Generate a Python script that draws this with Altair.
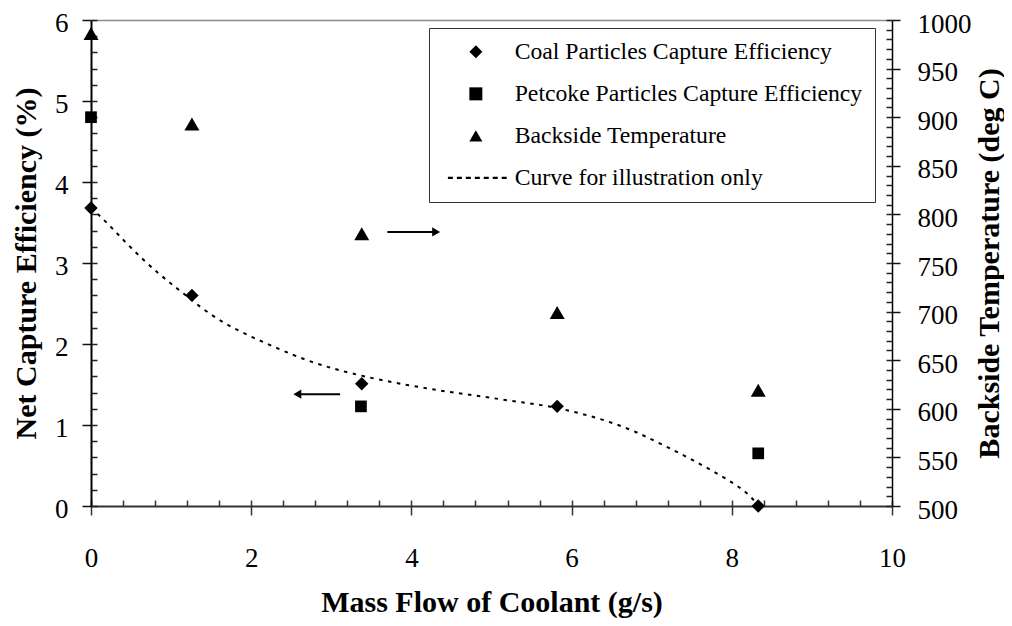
import altair as alt
import pandas as pd

# ---------------- data ----------------
flow = [0.0, 1.26, 3.38, 5.82, 8.33]
coal_eff = [3.68, 2.60, 1.51, 1.23, 0.00]
petcoke_flow = [0.0, 3.37, 8.33]
petcoke_eff = [4.80, 1.23, 0.65]
backside_temp = [986, 893, 780, 699, 619]

curve_flow = [0.0, 0.18, 0.5, 0.86, 1.15, 1.47, 1.82, 2.18, 2.53, 2.78, 3.01, 3.24,
              3.59, 3.97, 4.32, 4.68, 5.03, 5.38, 5.74, 6.09, 6.45, 6.8, 7.15,
              7.51, 7.86, 8.2, 8.33]
curve_eff = [3.68, 3.52, 3.18, 2.85, 2.63, 2.37, 2.17, 2.01, 1.86, 1.77, 1.70, 1.64,
             1.56, 1.49, 1.43, 1.38, 1.33, 1.28, 1.23, 1.15, 1.05, 0.92, 0.75,
             0.57, 0.38, 0.17, 0.00]

series_names = ["Coal Particles Capture Efficiency",
                "Petcoke Particles Capture Efficiency",
                "Backside Temperature",
                "Curve for illustration only"]

# annotation arrows (data units)
arrow_temp_x = [3.70, 4.375]     # tail, tip (points right)
arrow_temp_y = [782]
arrow_eff_x = [3.11, 2.51]       # tail, tip (points left)
arrow_eff_y = [1.38]

x_ticks = [0, 2, 4, 6, 8, 10]
x_minor = [round(i * 0.4, 1) for i in range(26)]
y_left_ticks = [0, 1, 2, 3, 4, 5, 6]
y_left_minor = [round(i * 0.2, 1) for i in range(31)]
y_right_ticks = list(range(500, 1001, 50))
y_right_minor = list(range(500, 1001, 10))

# ---------------- styling ----------------
FONT = "Liberation Serif"
W, H = 801, 486
HEAD = 0.066  # arrow head centre offset from tip (data units)

coal_df = pd.DataFrame({"flow": flow, "eff": coal_eff,
                        "series": [series_names[0]] * len(flow)})
pet_df = pd.DataFrame({"flow": petcoke_flow, "eff": petcoke_eff,
                       "series": [series_names[1]] * len(petcoke_flow)})
temp_df = pd.DataFrame({"flow": flow, "temp": backside_temp,
                        "series": [series_names[2]] * len(flow)})
curve_df = pd.DataFrame({"flow": curve_flow, "eff": curve_eff})
arr_t = pd.DataFrame({"x": [arrow_temp_x[0]], "x2": [arrow_temp_x[1] - HEAD],
                      "y": arrow_temp_y})
arr_t_head = pd.DataFrame({"x": [arrow_temp_x[1] - HEAD], "y": arrow_temp_y})
arr_e = pd.DataFrame({"x": [arrow_eff_x[0]], "x2": [arrow_eff_x[1] + HEAD],
                      "y": arrow_eff_y})
arr_e_head = pd.DataFrame({"x": [arrow_eff_x[1] + HEAD], "y": arrow_eff_y})

# dashed line legend glyph built of small bars (unit = sqrt(size)/2 px)
dash_path = " ".join(
    f"M{s:.2f},-0.16h0.77v0.32h-0.77Z" for s in [-4.3, -2.92, -1.54, -0.16, 1.22, 2.6, 3.98]
)

shape_scale = alt.Scale(domain=series_names,
                        range=["diamond", "square", "triangle-up", dash_path])


def make_legend():
    return alt.Legend(
        title=None, orient="none", legendX=338, legendY=8, padding=12,
        strokeColor="#333", fillColor="white",
        labelFont=FONT, labelFontSize=23.7, labelColor="black", labelLimit=600,
        symbolSize=169, symbolFillColor="black", symbolStrokeWidth=0, symbolOpacity=1,
        rowPadding=17, symbolOffset=23, labelOffset=27,
    )


xs = alt.Scale(domain=[0, 10], nice=False)
ysl = alt.Scale(domain=[0, 6], nice=False)
ysr = alt.Scale(domain=[500, 1000], nice=False, zero=False)

x_main = alt.Axis(
    values=x_ticks, orient="bottom", tickSize=9, tickWidth=1.5, tickColor="#333",
    domainColor="#333", domainWidth=2, grid=False,
    labelFont=FONT, labelFontSize=27, labelColor="black", labelBaseline="alphabetic",
    labelPadding=51, labelFlush=False, labelOverlap=False, format="d",
    title="Mass Flow of Coolant (g/s)", titleFont=FONT, titleFontSize=30,
    titleFontWeight="bold", titleColor="black", titleBaseline="alphabetic", titleY=105,
)
x_inner = alt.Axis(orient="top", offset=-H, values=x_minor, tickSize=6, tickWidth=1.5,
                   tickColor="#333", domain=False, labels=False, grid=False, title=None)
x_top = alt.Axis(orient="top", ticks=False, labels=False, domain=True,
                 domainColor="#8c8c8c", domainWidth=1.5, grid=False, title=None)

y_main = alt.Axis(
    values=y_left_ticks, orient="left", tickSize=9, tickWidth=1.5, tickColor="#111",
    domainColor="black", domainWidth=2, grid=False,
    labelFont=FONT, labelFontSize=27, labelColor="black", labelPadding=14,
    labelOffset=3, labelFlush=False, labelOverlap=False, format="d",
    title="Net Capture Efficiency (%)", titleFont=FONT, titleFontSize=30,
    titleFontWeight="bold", titleColor="black", titleAngle=270,
    titleBaseline="alphabetic", titleX=-56, titleY=H / 2,
)
y_inner = alt.Axis(orient="right", offset=-W, values=y_left_minor, tickSize=6,
                   tickWidth=1.5, tickColor="#222", domain=False, labels=False,
                   grid=False, title=None)
yr_main = alt.Axis(
    values=y_right_ticks, orient="right", tickSize=8, tickWidth=1.5, tickColor="#111",
    domainColor="black", domainWidth=1.5, grid=False,
    labelFont=FONT, labelFontSize=27, labelColor="black", labelPadding=17,
    labelOffset=4, labelFlush=False, labelOverlap=False, format="d",
    title="Backside Temperature (deg C)", titleFont=FONT, titleFontSize=30,
    titleFontWeight="bold", titleColor="black", titleAngle=270,
    titleBaseline="alphabetic", titleX=106, titleY=H / 2,
)
yr_inner = alt.Axis(orient="left", offset=-W, values=y_right_minor, tickSize=6,
                    tickWidth=1.5, tickColor="#222", domain=False, labels=False,
                    grid=False, title=None)

coal_pts = alt.Chart(coal_df).mark_point(filled=True, color="black", opacity=1,
                                         strokeWidth=0, size=180).encode(
    x=alt.X("flow:Q", scale=xs, axis=x_main),
    y=alt.Y("eff:Q", scale=ysl, axis=y_main),
    shape=alt.Shape("series:N", scale=shape_scale, legend=make_legend()),
)
pet_pts = alt.Chart(pet_df).mark_point(filled=True, color="black", opacity=1,
                                       strokeWidth=0, size=137).encode(
    x=alt.X("flow:Q", scale=xs, axis=None),
    y=alt.Y("eff:Q", scale=ysl, axis=None),
    shape=alt.Shape("series:N", scale=shape_scale, legend=make_legend()),
)

curve = alt.Chart(curve_df).mark_line(color="black", strokeWidth=2,
                                      strokeDash=[3.5, 5.5],
                                      interpolate="basis").encode(
    x=alt.X("flow:Q", scale=xs, axis=x_inner),
    y=alt.Y("eff:Q", scale=ysl, axis=y_inner),
)

temp_pts = alt.Chart(temp_df).mark_point(filled=True, color="black", opacity=1,
                                         strokeWidth=0, size=225).encode(
    x=alt.X("flow:Q", scale=xs, axis=x_top),
    y=alt.Y("temp:Q", scale=ysr, axis=yr_main),
    shape=alt.Shape("series:N", scale=shape_scale, legend=make_legend()),
)

arrow_t_line = alt.Chart(arr_t).mark_rule(color="black", strokeWidth=2).encode(
    x=alt.X("x:Q", scale=xs, axis=None), x2="x2:Q",
    y=alt.Y("y:Q", scale=ysr, axis=yr_inner),
)
arrow_t_head = alt.Chart(arr_t_head).mark_point(
    shape="triangle-right", filled=True, color="black", opacity=1, size=85, strokeWidth=0
).encode(
    x=alt.X("x:Q", scale=xs, axis=None),
    y=alt.Y("y:Q", scale=ysr, axis=None),
)
arrow_e_line = alt.Chart(arr_e).mark_rule(color="black", strokeWidth=2).encode(
    x=alt.X("x:Q", scale=xs, axis=None), x2="x2:Q",
    y=alt.Y("y:Q", scale=ysl, axis=None),
)
arrow_e_head = alt.Chart(arr_e_head).mark_point(
    shape="triangle-left", filled=True, color="black", opacity=1, size=85, strokeWidth=0
).encode(
    x=alt.X("x:Q", scale=xs, axis=None),
    y=alt.Y("y:Q", scale=ysl, axis=None),
)

chart = alt.layer(
    coal_pts, pet_pts, curve, temp_pts, arrow_t_line, arrow_t_head, arrow_e_line,
    arrow_e_head
).resolve_scale(
    y="independent"
).resolve_axis(
    x="independent", y="independent"
).properties(
    width=W, height=H, autosize="none",
    padding={"left": 83, "top": 12, "right": 112, "bottom": 112},
    background="white",
).configure(
    font=FONT
).configure_legend(
    labelFont=FONT
).configure_view(stroke=None)

chart.save("out.html", embed_options={"renderer": "svg", "actions": False})
